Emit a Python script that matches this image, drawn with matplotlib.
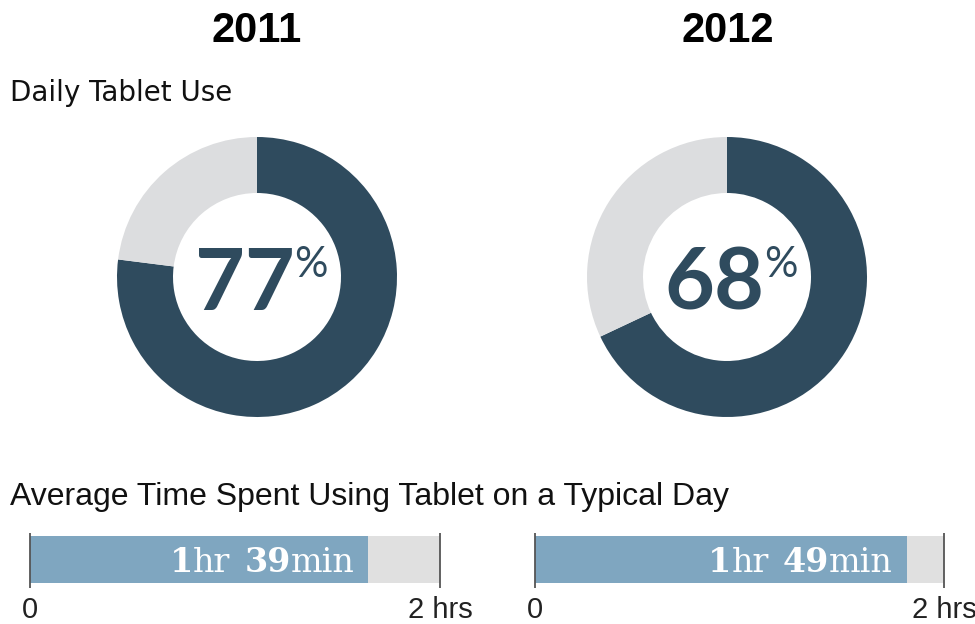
import matplotlib
matplotlib.use("Agg")
import matplotlib.pyplot as plt
from matplotlib.offsetbox import TextArea, HPacker, AnnotationBbox

# data
years = ["2011", "2012"]
daily_use = [77, 68]          # percent of owners using tablet daily
avg_minutes = [99, 109]       # average minutes per typical day
max_minutes = 120             # axis end, 2 hrs

dark = "#2f4b5e"
light = "#dcdddf"
bar_blue = "#7fa6c0"
bar_grey = "#e0e0e0"

W, H = 975, 624
fig = plt.figure(figsize=(W / 100, H / 100), dpi=100)
fig.patch.set_facecolor("white")


def box(l, t, r, b):
    # pixel box -> figure fraction
    return [l / W, 1 - b / H, (r - l) / W, (b - t) / H]


pie_boxes = [(117, 137, 397, 417), (587, 137, 867, 417)]
bar_boxes = [(30, 530, 440, 590), (535, 530, 944, 590)]
title_x = [257, 728]

for i in range(2):
    fig.text(title_x[i] / W, 1 - 31 / H, years[i], ha="center", va="center",
             fontsize=30, fontweight="bold", family="Liberation Sans")

    # donut
    ax = fig.add_axes(box(*pie_boxes[i]))
    ax.pie([daily_use[i], 100 - daily_use[i]], colors=[dark, light],
           startangle=90, counterclock=False, radius=1,
           wedgeprops=dict(width=0.4, edgecolor="none"))
    ax.set_xlim(-1, 1)
    ax.set_ylim(-1, 1)
    ax.axis("off")
    num = TextArea(str(daily_use[i]), textprops=dict(fontsize=62, fontweight="bold",
                                                     color=dark, family="Lato"))
    pct = TextArea("%", textprops=dict(fontsize=30, color=dark, family="Lato"))
    pack = HPacker(children=[num, pct], align="top", pad=0, sep=0)
    ab = AnnotationBbox(pack, (0.03, -0.06), xycoords="data", frameon=False,
                        box_alignment=(0.5, 0.5))
    ax.add_artist(ab)

    # time bar
    bx = fig.add_axes(box(*bar_boxes[i]))
    bx.barh(0.508, max_minutes, height=0.78, color=bar_grey)
    bx.barh(0.508, avg_minutes[i], height=0.78, color=bar_blue)
    bx.vlines([0, max_minutes], 0.03, 0.95, color="#555555", lw=1.3, clip_on=False)
    bx.set_xlim(0, max_minutes)
    bx.set_ylim(0, 1)
    for s in bx.spines.values():
        s.set_visible(False)
    bx.set_yticks([])
    bx.set_xticks([0, max_minutes])
    bx.set_xticklabels(["0", "2 hrs"], fontsize=21, family="Liberation Sans",
                       color="#222222")
    bx.tick_params(axis="x", length=0, pad=4)

    hrs = avg_minutes[i] // 60
    mins = avg_minutes[i] % 60
    tp_b = dict(fontsize=24, fontweight="bold", color="white", family="DejaVu Serif")
    tp_n = dict(fontsize=24, color="white", family="DejaVu Serif")
    p1 = HPacker(children=[TextArea(str(hrs), textprops=tp_b),
                           TextArea("hr", textprops=tp_n)], align="baseline", pad=0, sep=0)
    p2 = HPacker(children=[TextArea(str(mins), textprops=tp_b),
                           TextArea("min", textprops=tp_n)], align="baseline", pad=0, sep=0)
    lab = HPacker(children=[p1, p2], align="baseline", pad=0, sep=10)
    ab = AnnotationBbox(lab, (avg_minutes[i] - 4, 0.45), xycoords="data", frameon=False,
                        box_alignment=(1, 0.5))
    bx.add_artist(ab)

fig.text(10 / W, 1 - 93 / H, "Daily Tablet Use", ha="left", va="center",
         fontsize=20, family="DejaVu Sans", color="#111111")
fig.text(10 / W, 1 - 497 / H, "Average Time Spent Using Tablet on a Typical Day",
         ha="left", va="center", fontsize=23, family="Liberation Sans", color="#111111")

fig.savefig("out.png", dpi=100)
